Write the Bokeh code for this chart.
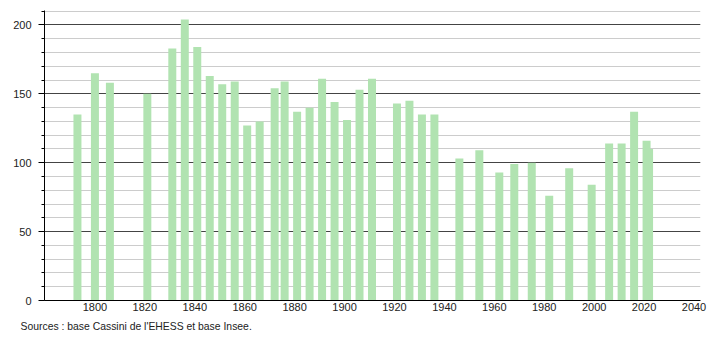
from bokeh.plotting import figure
from bokeh.models import Range1d, SingleIntervalTicker, FixedTicker, Title, ColumnDataSource
from bokeh.embed import file_html
from bokeh.resources import INLINE

years = [1793, 1800, 1806, 1821, 1831, 1836, 1841, 1846, 1851, 1856,
         1861, 1866, 1872, 1876, 1881, 1886, 1891, 1896, 1901, 1906,
         1911, 1921, 1926, 1931, 1936, 1946, 1954, 1962, 1968, 1975,
         1982, 1990, 1999, 2006, 2011, 2016, 2021, 2022]
population = [135, 165, 158, 150, 183, 204, 184, 163, 157, 159,
              127, 130, 154, 159, 137, 140, 161, 144, 131, 153,
              161, 143, 145, 135, 135, 103, 109, 93, 99, 100,
              76, 96, 84, 114, 114, 137, 116, 110]
x_ticks = [1800, 1820, 1840, 1860, 1880, 1900, 1920, 1940, 1960, 1980, 2000, 2020, 2040]
source_text = "Sources : base Cassini de l'EHESS et base Insee."

FONT = "Liberation Sans"

src = ColumnDataSource(dict(year=years, pop=population))

p = figure(width=710, height=340, output_backend="svg", toolbar_location=None,
           x_range=Range1d(1779.8, 2042.6), y_range=Range1d(0, 210.5),
           min_border_left=44, min_border_right=10, min_border_top=10,
           min_border_bottom=40)
p.outline_line_color = None
p.background_fill_color = "white"
p.border_fill_color = "white"

p.vbar(x="year", top="pop", bottom=0, width=3.2, source=src,
       fill_color="#b1e3b1", line_color=None)

# y axis
p.yaxis.ticker = SingleIntervalTicker(interval=50, num_minor_ticks=5)
p.yaxis.major_tick_out = 6
p.yaxis.major_tick_in = 0
p.yaxis.minor_tick_out = 3
p.yaxis.minor_tick_in = 0
p.yaxis.axis_line_color = "black"
p.yaxis.major_tick_line_color = "black"
p.yaxis.minor_tick_line_color = "black"
p.yaxis.major_label_standoff = 7
p.yaxis.major_label_text_font = FONT
p.yaxis.major_label_text_font_size = "11px"
p.yaxis.major_label_text_color = "#222222"

# x axis
p.xaxis.ticker = FixedTicker(ticks=x_ticks)
p.xaxis.major_tick_out = 0
p.xaxis.major_tick_in = 0
p.xaxis.minor_tick_out = 0
p.xaxis.minor_tick_in = 0
p.xaxis.axis_line_color = "black"
p.xaxis.major_label_standoff = 2
p.xaxis.major_label_text_font = FONT
p.xaxis.major_label_text_font_size = "11px"
p.xaxis.major_label_text_color = "#222222"

# grids
p.xgrid.visible = False
p.ygrid.ticker = p.yaxis.ticker
p.ygrid.grid_line_color = "#444444"
p.ygrid.grid_line_width = 1
p.ygrid.minor_grid_line_color = "#cccccc"
p.ygrid.minor_grid_line_width = 1

ttl = Title(text=source_text, align="left", offset=-24, standoff=10,
            text_font=FONT, text_font_size="10.4px", text_color="#222222",
            text_font_style="normal")
p.add_layout(ttl, "below")

open("out.html", "w").write(file_html(p, INLINE))
